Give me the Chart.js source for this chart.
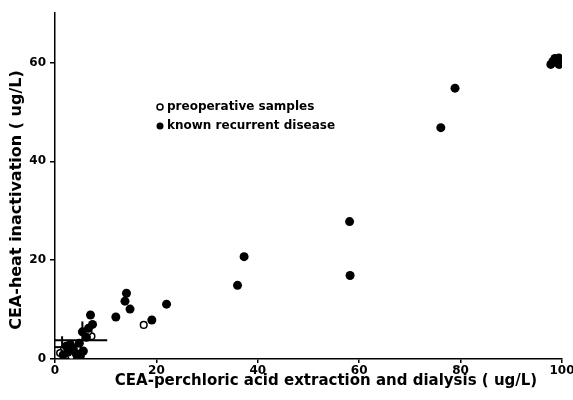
<!DOCTYPE html>
<html lang="en">
<head>
  <meta charset="UTF-8">
  <title>CEA scatter</title>
  <script src="https://cdn.jsdelivr.net/npm/chart.js"></script>
  <style>
    body { margin: 0; padding: 0; background: #fff; }
    #wrap { width: 573px; height: 400px; }
  </style>
</head>
<body>
  <div id="wrap"><canvas id="chart"></canvas></div>

  <script>
    // known recurrent disease (filled)
    const recurX = [97.8, 98.6, 99.4, 99.4, 98.2, 78.9, 76.1, 58.1, 58.2, 37.3, 36.0,
      14.1, 13.8, 14.8, 12.0, 19.1, 22.0,
      7.0, 7.4, 6.6, 5.4, 6.2, 4.8, 3.6, 2.6, 4.2, 5.6, 1.6, 3.0, 2.2, 5.0];
    const recurY = [59.6, 60.8, 60.9, 59.6, 60.2, 54.8, 46.8, 27.8, 16.9, 20.7, 14.9,
      13.3, 11.7, 10.1, 8.5, 7.9, 11.1,
      8.9, 7.0, 6.2, 5.5, 4.4, 3.2, 2.2, 1.4, 1.0, 1.6, 0.8, 3.0, 2.6, 0.6];

    // preoperative samples (open)
    const preopX = [17.5, 7.2, 6.6, 1.8, 1.0, 4.4, 3.2, 2.8];
    const preopY = [6.9, 4.6, 5.6, 2.0, 1.2, 2.4, 0.6, 1.8];

    // short reference lines near the origin
    const lineH1 = [[0, 3.8], [10.3, 3.8]];
    const lineH2 = [[0, 2.4], [4.5, 2.4]];
    const lineV1 = [[1.4, 0.3], [1.4, 4.6]];
    const lineV2 = [[5.4, 3.8], [5.4, 7.6]];

    const xTicks = [0, 20, 40, 60, 80, 100];
    const yTicks = [0, 20, 40, 60];

    const legendLabels = ["preoperative samples", "known recurrent disease"];
    const xTitle = 'CEA-perchloric acid extraction and dialysis ( ug/L)';
    const yTitle = 'CEA-heat inactivation ( ug/L)';

    const toPts = (xs, ys) => xs.map((x, i) => ({ x: x, y: ys[i] }));
    const toLine = arr => arr.map(p => ({ x: p[0], y: p[1] }));

    const lineSet = arr => ({
      type: 'line',
      data: toLine(arr),
      borderColor: '#000',
      borderWidth: 2,
      pointRadius: 0,
      showLine: true,
      fill: false
    });

    const family = '"DejaVu Sans", Verdana, sans-serif';

    // legend and axis titles, placed where the original has them
    const labelPlugin = {
      id: 'labels',
      afterDraw(chart) {
        const ctx = chart.ctx;
        ctx.save();
        ctx.fillStyle = '#000';
        ctx.strokeStyle = '#000';
        ctx.textBaseline = 'middle';

        ctx.font = 'bold 12px ' + family;
        ctx.textAlign = 'left';
        const rows = [107, 126];
        ctx.beginPath();
        ctx.arc(160, rows[0], 3, 0, Math.PI * 2);
        ctx.lineWidth = 1.5;
        ctx.stroke();
        ctx.beginPath();
        ctx.arc(160, rows[1], 3.5, 0, Math.PI * 2);
        ctx.fill();
        ctx.fillText(legendLabels[0], 167, rows[0]);
        ctx.fillText(legendLabels[1], 167, rows[1]);

        ctx.textAlign = 'center';
        ctx.font = 'bold 15px ' + family;
        ctx.fillText(xTitle, 326, 381);

        ctx.translate(17, 200);
        ctx.rotate(-Math.PI / 2);
        ctx.font = 'bold 16px ' + family;
        ctx.fillText(yTitle, 0, 0);
        ctx.restore();
      }
    };

    const font = { family: family, weight: 'bold' };

    new Chart(document.getElementById('chart'), {
      type: 'scatter',
      data: {
        datasets: [
          {
            label: legendLabels[1],
            data: toPts(recurX, recurY),
            pointRadius: 4.5,
            pointBackgroundColor: '#000',
            pointBorderColor: '#000',
            pointBorderWidth: 0
          },
          {
            label: legendLabels[0],
            data: toPts(preopX, preopY),
            pointRadius: 3.3,
            pointBackgroundColor: '#fff',
            pointBorderColor: '#000',
            pointBorderWidth: 1.5
          },
          lineSet(lineH1),
          lineSet(lineH2),
          lineSet(lineV1),
          lineSet(lineV2)
        ]
      },
      options: {
        responsive: true,
        maintainAspectRatio: false,
        animation: false,
        layout: { padding: { top: 13, right: 11, left: 0, bottom: 0 } },
        plugins: {
          legend: { display: false },
          tooltip: { enabled: false }
        },
        scales: {
          x: {
            type: 'linear',
            min: 0,
            max: 100,
            afterBuildTicks: axis => { axis.ticks = xTicks.map(v => ({ value: v })); },
            afterFit: axis => { axis.height = 41; axis.paddingRight = 0; axis.paddingLeft = 0; },
            border: { color: '#000', width: 1.5 },
            grid: { drawOnChartArea: false, color: '#000', tickLength: 4, lineWidth: 1.5 },
            ticks: { color: '#000', font: { ...font, size: 12 }, padding: 1, maxRotation: 0 },
            title: { display: false }
          },
          y: {
            type: 'linear',
            min: 0,
            max: 70,
            afterBuildTicks: axis => { axis.ticks = yTicks.map(v => ({ value: v })); },
            afterFit: axis => { axis.width = 55; },
            border: { color: '#000', width: 1.5 },
            grid: { drawOnChartArea: false, color: '#000', tickLength: 5, lineWidth: 1.5 },
            ticks: { color: '#000', font: { ...font, size: 12 }, padding: 4 },
            title: { display: false }
          }
        }
      },
      plugins: [labelPlugin]
    });
  </script>
</body>
</html>
